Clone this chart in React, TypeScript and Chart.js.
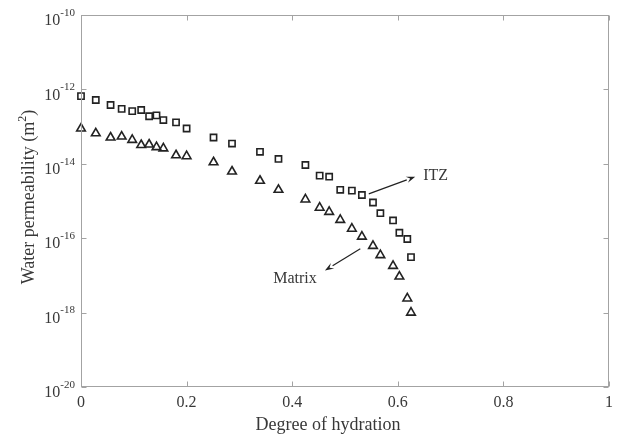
import { useEffect, useRef } from 'react';
import { Chart, registerables } from 'chart.js';

Chart.register(...registerables);

// Degree of hydration (shared by both series)
const hydration = [0, 0.028, 0.056, 0.077, 0.097, 0.114, 0.129, 0.143, 0.156, 0.18, 0.2, 0.251, 0.286, 0.339, 0.374, 0.425, 0.452, 0.47, 0.491, 0.513, 0.532, 0.553, 0.567, 0.591, 0.603, 0.618, 0.625];
// Water permeability (m^2)
const itzPermeability = [6.6e-13, 5.2e-13, 3.8e-13, 3.0e-13, 2.6e-13, 2.8e-13, 1.9e-13, 2.0e-13, 1.5e-13, 1.3e-13, 8.9e-14, 5.1e-14, 3.5e-14, 2.1e-14, 1.35e-14, 9.3e-15, 4.8e-15, 4.5e-15, 2.0e-15, 1.9e-15, 1.45e-15, 9.1e-16, 4.7e-16, 3.0e-16, 1.4e-16, 9.5e-17, 3.1e-17];
const matrixPermeability = [8.9e-14, 6.6e-14, 5.1e-14, 5.4e-14, 4.4e-14, 3.2e-14, 3.3e-14, 2.8e-14, 2.6e-14, 1.7e-14, 1.6e-14, 1.1e-14, 6.2e-15, 3.5e-15, 2.0e-15, 1.1e-15, 6.6e-16, 5.1e-16, 3.1e-16, 1.8e-16, 1.1e-16, 6.2e-17, 3.5e-17, 1.8e-17, 9.3e-18, 2.4e-18, 1.0e-18];

const xTickValues = [0, 0.2, 0.4, 0.6, 0.8, 1];
const xTickLabels = ['0', '0.2', '0.4', '0.6', '0.8', '1'];
const yTickExponents = [-20, -18, -16, -14, -12, -10];
const yTickLabels = ['-20', '-18', '-16', '-14', '-12', '-10'];

const xTitle = 'Degree of hydration';
const yTitleMain = 'Water permeability (m';
const yTitleSup = '2';
const yTitleEnd = ')';

// Annotations in data coordinates
const annotationLabels = ['ITZ', 'Matrix'];
const annotationText = [
  { x: 0.648, y: 4.7e-15 },
  { x: 0.364, y: 7.9e-18 },
];
const annotationArrowFrom = [
  { x: 0.545, y: 1.55e-15 },
  { x: 0.529, y: 5.2e-17 },
];
const annotationArrowTo = [
  { x: 0.633, y: 4.5e-15 },
  { x: 0.462, y: 1.35e-17 },
];

const FONT = '"Liberation Serif", "Times New Roman", serif';
const TEXT = '#383838';
const AXIS = '#a3a3a3';
const MARK = '#222222';

const decorations = {
  id: 'decorations',
  afterDraw(chart: any) {
    const { ctx, chartArea: a, scales } = chart;
    const xs = scales.x;
    const ys = scales.y;
    ctx.save();

    // box
    ctx.strokeStyle = AXIS;
    ctx.lineWidth = 1;
    const L = Math.round(a.left) + 0.5;
    const R = Math.round(a.right) - 0.5;
    const T = Math.round(a.top) + 0.5;
    const B = Math.round(a.bottom) - 0.5;
    ctx.strokeRect(L, T, R - L, B - T);

    // ticks (inward, all four sides)
    const tl = 5;
    ctx.beginPath();
    xTickValues.forEach((v) => {
      const px = Math.round(xs.getPixelForValue(v)) + 0.5;
      ctx.moveTo(px, B);
      ctx.lineTo(px, B - tl);
      ctx.moveTo(px, T);
      ctx.lineTo(px, T + tl);
    });
    yTickExponents.forEach((e) => {
      const py = Math.round(ys.getPixelForValue(Math.pow(10, e))) + 0.5;
      ctx.moveTo(L, py);
      ctx.lineTo(L + tl, py);
      ctx.moveTo(R, py);
      ctx.lineTo(R - tl, py);
    });
    ctx.stroke();

    // x tick labels
    ctx.fillStyle = TEXT;
    ctx.font = `16px ${FONT}`;
    ctx.textAlign = 'center';
    ctx.textBaseline = 'middle';
    xTickValues.forEach((v, i) => {
      ctx.fillText(xTickLabels[i], xs.getPixelForValue(v), a.bottom + 16);
    });

    // y tick labels: 10 with superscript exponent
    yTickExponents.forEach((e, i) => {
      const py = ys.getPixelForValue(Math.pow(10, e));
      ctx.font = `11px ${FONT}`;
      const supW = ctx.measureText(yTickLabels[i]).width;
      ctx.font = `16px ${FONT}`;
      const baseW = ctx.measureText('10').width;
      const right = a.left - 6;
      ctx.textAlign = 'left';
      ctx.fillText('10', right - supW - baseW, py + 6);
      ctx.font = `11px ${FONT}`;
      ctx.fillText(yTickLabels[i], right - supW, py - 2);
    });

    // x axis title
    ctx.font = `18px ${FONT}`;
    ctx.textAlign = 'center';
    ctx.fillText(xTitle, (a.left + a.right) / 2 - 17, a.bottom + 38);

    // y axis title with superscript
    ctx.save();
    ctx.font = `18px ${FONT}`;
    const w1 = ctx.measureText(yTitleMain).width;
    const w3 = ctx.measureText(yTitleEnd).width;
    ctx.font = `12px ${FONT}`;
    const w2 = ctx.measureText(yTitleSup).width;
    const total = w1 + w2 + w3;
    ctx.translate(29, (a.top + a.bottom) / 2 - 4);
    ctx.rotate(-Math.PI / 2);
    ctx.textAlign = 'left';
    ctx.font = `18px ${FONT}`;
    ctx.fillText(yTitleMain, -total / 2, 0);
    ctx.font = `12px ${FONT}`;
    ctx.fillText(yTitleSup, -total / 2 + w1, -6);
    ctx.font = `18px ${FONT}`;
    ctx.fillText(yTitleEnd, -total / 2 + w1 + w2, 0);
    ctx.restore();

    // annotations
    ctx.strokeStyle = MARK;
    ctx.fillStyle = MARK;
    ctx.lineWidth = 1.2;
    annotationLabels.forEach((lab, i) => {
      const x1 = xs.getPixelForValue(annotationArrowFrom[i].x);
      const y1 = ys.getPixelForValue(annotationArrowFrom[i].y);
      const x2 = xs.getPixelForValue(annotationArrowTo[i].x);
      const y2 = ys.getPixelForValue(annotationArrowTo[i].y);
      const ang = Math.atan2(y2 - y1, x2 - x1);
      const hl = 9;
      const hw = 3.2;
      const bx = x2 - hl * Math.cos(ang);
      const by = y2 - hl * Math.sin(ang);
      ctx.beginPath();
      ctx.moveTo(x1, y1);
      ctx.lineTo(bx, by);
      ctx.stroke();
      ctx.beginPath();
      ctx.moveTo(x2, y2);
      ctx.lineTo(bx + hw * Math.sin(ang), by - hw * Math.cos(ang));
      ctx.lineTo(x2 - 0.6 * hl * Math.cos(ang), y2 - 0.6 * hl * Math.sin(ang));
      ctx.lineTo(bx - hw * Math.sin(ang), by + hw * Math.cos(ang));
      ctx.closePath();
      ctx.fill();

      ctx.fillStyle = TEXT;
      ctx.font = `16px ${FONT}`;
      ctx.textAlign = 'left';
      ctx.textBaseline = 'middle';
      ctx.fillText(lab, xs.getPixelForValue(annotationText[i].x), ys.getPixelForValue(annotationText[i].y));
      ctx.fillStyle = MARK;
    });

    ctx.restore();
  },
};

export default function App() {
  const canvasRef = useRef<HTMLCanvasElement | null>(null);

  useEffect(() => {
    if (!canvasRef.current) return;
    const chart = new Chart(canvasRef.current, {
      type: 'scatter',
      data: {
        datasets: [
          {
            label: 'ITZ',
            data: hydration.map((x, i) => ({ x, y: itzPermeability[i] })),
            pointStyle: 'rect',
            pointRadius: 4.4,
            pointBorderWidth: 1.6,
            pointBorderColor: MARK,
            pointBackgroundColor: 'rgba(0,0,0,0)',
            showLine: false,
            clip: false,
          },
          {
            label: 'Matrix',
            data: hydration.map((x, i) => ({ x, y: matrixPermeability[i] })),
            pointStyle: 'triangle',
            pointRadius: 5,
            pointBorderWidth: 1.6,
            pointBorderColor: MARK,
            pointBackgroundColor: 'rgba(0,0,0,0)',
            showLine: false,
            clip: false,
          },
        ],
      },
      options: {
        responsive: false,
        animation: false,
        layout: { padding: { left: 0, top: 15, right: 8, bottom: 0 } },
        plugins: {
          legend: { display: false },
          tooltip: { enabled: false },
        },
        scales: {
          x: {
            type: 'linear',
            min: 0,
            max: 1,
            grid: { display: false },
            border: { display: false },
            ticks: { display: false, stepSize: 0.2 },
            afterFit: (s: any) => {
              s.height = 51;
            },
          },
          y: {
            type: 'logarithmic',
            min: 1e-20,
            max: 1e-10,
            grid: { display: false },
            border: { display: false },
            ticks: { display: false },
            afterBuildTicks: (s: any) => {
              s.ticks = yTickExponents.map((e) => ({ value: Math.pow(10, e) }));
            },
            afterFit: (s: any) => {
              s.width = 81;
            },
          },
        },
      },
      plugins: [decorations],
    });
    return () => chart.destroy();
  }, []);

  return (
    <div style={{ position: 'absolute', left: 0, top: 0, width: 617, height: 438, background: '#fff' }}>
      <canvas ref={canvasRef} width={617} height={438} />
    </div>
  );
}
